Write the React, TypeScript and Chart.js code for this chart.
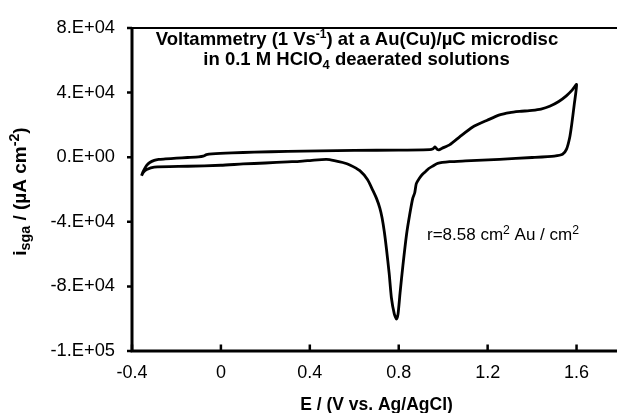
import React, { useEffect, useRef } from 'react';
import { Chart, registerables } from 'chart.js';

Chart.register(...registerables);

// Forward (anodic) scan: potential (V vs Ag/AgCl) and current (µA cm-2)
const forwardPotential = [
  -0.357, -0.352, -0.345, -0.335, -0.32, -0.3, -0.28, -0.25, -0.2, -0.15, -0.1, -0.08, -0.065,
  -0.04, 0.05, 0.15, 0.3, 0.445, 0.6, 0.8, 0.94, 0.955, 0.963, 0.972, 0.98, 0.995, 1.03, 1.074,
  1.133, 1.2, 1.254, 1.3, 1.344, 1.4, 1.44, 1.479, 1.52, 1.554, 1.58, 1.6,
];
const forwardCurrent = [
  -11500, -9500, -7500, -5200, -3300, -2000, -1400, -1100, -600, -200, 200, 600, 1600,
  2100, 2700, 3100, 3600, 3900, 4200, 4400, 4700, 5300, 6300, 5000, 4500, 5500, 7800, 12600,
  18700, 23000, 26200, 27600, 28300, 29000, 29800, 31500, 34500, 38000, 41500, 45000,
];

// Reverse (cathodic) scan
const reversePotential = [
  1.59, 1.578, 1.569, 1.555, 1.537, 1.5, 1.4, 1.254, 1.1, 1.029, 0.975, 0.953, 0.935, 0.92,
  0.908, 0.893, 0.879, 0.872, 0.863, 0.849, 0.835, 0.819, 0.806, 0.797, 0.79, 0.78, 0.767,
  0.757, 0.745, 0.735, 0.725, 0.715, 0.7, 0.683, 0.66, 0.625, 0.58, 0.548, 0.51, 0.475, 0.42,
  0.355, 0.3, 0.2, 0.1, 0.0, -0.15, -0.3, -0.334, -0.35, -0.357,
];
const reverseCurrent = [
  33000, 20000, 12000, 5000, 1800, 700, -200, -1300, -2300, -2800, -3800, -5500, -7000, -9000,
  -10400, -13000, -16400, -22000, -25500, -35800, -48000, -66800, -84000, -97000, -100200, -97000, -87000,
  -72000, -57000, -46000, -37500, -31500, -25500, -20400, -14000, -8350, -4800, -3300, -2100, -1400, -1800,
  -2600, -2900, -3600, -4200, -5000, -5600, -6100, -7600, -9500, -11500,
];

const xTickValues = [-0.4, 0, 0.4, 0.8, 1.2, 1.6];
const xTickLabels = ['-0.4', '0', '0.4', '0.8', '1.2', '1.6'];
const yTickValues = [80000, 40000, 0, -40000, -80000, -120000];
const yTickLabels = ['8.E+04', '4.E+04', '0.E+00', '-4.E+04', '-8.E+04', '-1.E+05'];

type Run = { t: string; m?: 'sup' | 'sub' };

const titleLine1: Run[] = [
  { t: 'Voltammetry (1 Vs' },
  { t: '-1', m: 'sup' },
  { t: ') at a Au(Cu)/\u00b5C microdisc' },
];
const titleLine2: Run[] = [
  { t: 'in 0.1 M HClO' },
  { t: '4', m: 'sub' },
  { t: ' deaerated solutions' },
];
const yAxisTitle: Run[] = [
  { t: 'i' },
  { t: 'sga', m: 'sub' },
  { t: ' / (\u00b5A cm' },
  { t: '-2', m: 'sup' },
  { t: ')' },
];
const xAxisTitle: Run[] = [{ t: 'E / (V vs. Ag/AgCl)' }];
const annotation: Run[] = [
  { t: 'r=8.58 cm' },
  { t: '2', m: 'sup' },
  { t: ' Au / cm' },
  { t: '2', m: 'sup' },
];

const FONT = "'Liberation Sans', Arial, Helvetica, sans-serif";

function runSize(r: Run, size: number, k: number) {
  return r.m ? size * k : size;
}

function runsWidth(ctx: CanvasRenderingContext2D, runs: Run[], size: number, weight: string, k: number) {
  let w = 0;
  for (const r of runs) {
    ctx.font = `${weight} ${runSize(r, size, k)}px ${FONT}`;
    w += ctx.measureText(r.t).width;
  }
  return w;
}

function drawRuns(
  ctx: CanvasRenderingContext2D,
  runs: Run[],
  x: number,
  y: number,
  size: number,
  weight: string,
  align: 'left' | 'center',
  k = 0.65
) {
  const w = runsWidth(ctx, runs, size, weight, k);
  let cx = align === 'center' ? x - w / 2 : x;
  ctx.textAlign = 'left';
  ctx.textBaseline = 'alphabetic';
  ctx.fillStyle = '#000';
  for (const r of runs) {
    ctx.font = `${weight} ${runSize(r, size, k)}px ${FONT}`;
    const dy = r.m === 'sup' ? -size * 0.38 : r.m === 'sub' ? size * 0.22 : 0;
    ctx.fillText(r.t, cx, y + dy);
    cx += ctx.measureText(r.t).width;
  }
}

const decorPlugin = {
  id: 'decor',
  afterDraw(chart: any) {
    const { ctx, chartArea, scales } = chart;
    const { left, right, top, bottom } = chartArea;
    ctx.save();
    ctx.strokeStyle = '#000';
    ctx.lineCap = 'butt';
    // top frame line
    ctx.lineWidth = 2;
    ctx.beginPath();
    ctx.moveTo(left, top);
    ctx.lineTo(right, top);
    ctx.stroke();
    // axes
    ctx.lineWidth = 3;
    ctx.beginPath();
    ctx.moveTo(left, top - 1);
    ctx.lineTo(left, bottom + 1.5);
    ctx.moveTo(left - 1.5, bottom);
    ctx.lineTo(right, bottom);
    ctx.stroke();
    // y ticks (outside)
    ctx.lineWidth = 2.5;
    ctx.beginPath();
    for (const v of yTickValues) {
      const y = scales.y.getPixelForValue(v);
      ctx.moveTo(left - 5, y);
      ctx.lineTo(left, y);
    }
    ctx.stroke();
    // x ticks (inside)
    ctx.beginPath();
    for (const v of xTickValues) {
      const x = scales.x.getPixelForValue(v);
      ctx.moveTo(x, bottom);
      ctx.lineTo(x, bottom - 6.5);
    }
    ctx.stroke();

    // texts
    drawRuns(ctx, titleLine1, 357, 45, 18.5, 'bold', 'center');
    drawRuns(ctx, titleLine2, 356.5, 65, 18.5, 'bold', 'center', 0.7);
    drawRuns(ctx, annotation, 427, 240, 17, 'normal', 'left', 0.72);
    drawRuns(ctx, xAxisTitle, (left + right) / 2, 410, 17.5, 'bold', 'center');

    ctx.save();
    ctx.translate(26, 191.5);
    ctx.rotate(-Math.PI / 2);
    drawRuns(ctx, yAxisTitle, 0, 0, 19, 'bold', 'center', 0.75);
    ctx.restore();

    ctx.restore();
  },
};

export default function App() {
  const canvasRef = useRef<HTMLCanvasElement | null>(null);

  useEffect(() => {
    const canvas = canvasRef.current;
    if (!canvas) return;
    const points: { x: number; y: number }[] = [];
    forwardPotential.forEach((x, i) => points.push({ x, y: forwardCurrent[i] }));
    reversePotential.forEach((x, i) => points.push({ x, y: reverseCurrent[i] }));

    const chart = new Chart(canvas, {
      type: 'scatter',
      data: {
        datasets: [
          {
            data: points,
            showLine: true,
            pointRadius: 0,
            borderColor: '#000',
            borderWidth: 2.8,
            borderJoinStyle: 'round',
            tension: 0.2,
          },
        ],
      },
      options: {
        responsive: false,
        animation: false,
        devicePixelRatio: 1,
        layout: { padding: { top: 20.5, right: 19, left: 0, bottom: 0 } },
        plugins: {
          legend: { display: false },
          tooltip: { enabled: false },
        },
        scales: {
          x: {
            type: 'linear',
            min: -0.4,
            max: 1.8,
            afterBuildTicks: (scale: any) => {
              scale.ticks = xTickValues.map((v) => ({ value: v }));
            },
            afterFit: (scale: any) => {
              scale.height = 62;
            },
            grid: { display: false, drawTicks: false },
            border: { display: false },
            ticks: {
              padding: 11,
              color: '#000',
              font: { family: FONT, size: 18 },
              maxRotation: 0,
              autoSkip: false,
              callback: (value: any) => {
                const i = xTickValues.findIndex((t) => Math.abs(t - Number(value)) < 1e-6);
                return i >= 0 ? xTickLabels[i] : '';
              },
            },
          },
          y: {
            type: 'linear',
            min: -120000,
            max: 80000,
            afterBuildTicks: (scale: any) => {
              scale.ticks = yTickValues.map((v) => ({ value: v }));
            },
            afterFit: (scale: any) => {
              scale.width = 132;
            },
            grid: { display: false, drawTicks: false },
            border: { display: false },
            ticks: {
              padding: 17,
              color: '#000',
              font: { family: FONT, size: 18.3 },
              autoSkip: false,
              callback: (value: any) => {
                const i = yTickValues.findIndex((t) => Math.abs(t - Number(value)) < 1);
                return i >= 0 ? yTickLabels[i] : '';
              },
            },
          },
        },
      },
      plugins: [decorPlugin],
    });
    return () => chart.destroy();
  }, []);

  return (
    <div
      style={{
        position: 'fixed',
        left: 0,
        top: 0,
        width: 617,
        height: 413,
        overflow: 'hidden',
        background: '#fff',
      }}
    >
      <canvas ref={canvasRef} width={640} height={413} style={{ display: 'block' }} />
    </div>
  );
}
